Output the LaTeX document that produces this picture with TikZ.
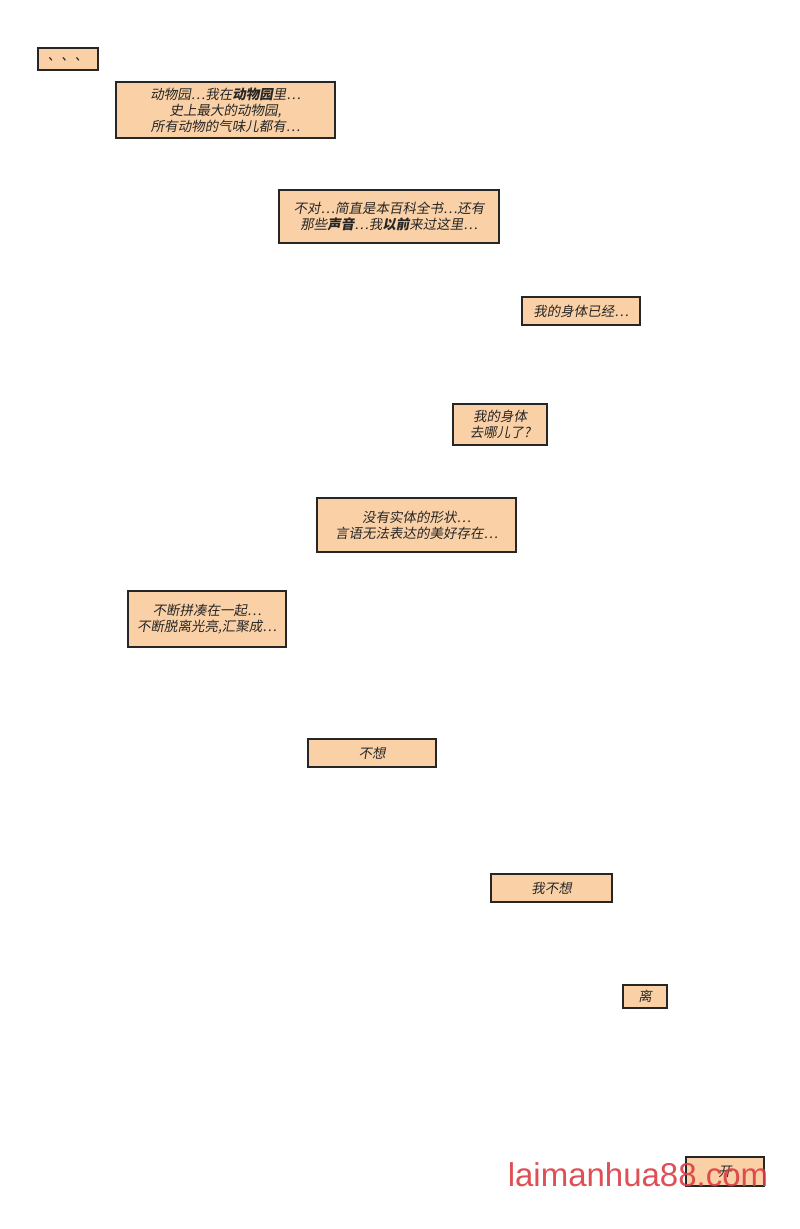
\documentclass[tikz,border=0pt]{standalone}
\usepackage{fontspec}
\newfontfamily\cjk[FakeSlant=0.18]{Noto Sans CJK SC}
\newfontfamily\wm{Liberation Sans}
\definecolor{peach}{HTML}{FAD0A6}
\definecolor{wmred}{HTML}{DC3C44}
\begin{document}
\begin{tikzpicture}[x=1pt,y=-1pt,
  capbx/.style={draw=black!85,line width=1.3pt,fill=peach,inner sep=0pt,align=center,
    font=\cjk\fontsize{13.5}{16}\selectfont,text=black!85}]
\useasboundingbox[fill=white] (0,0) rectangle (800,1229);
\newcommand\capbox[6]{\node[capbx,minimum width={#3-#1},minimum height={#4-#2}] (#5) at ({(#1+#3)/2},{(#2+#4)/2}) {#6};}
\capbox{38}{48}{98}{70}{c1}{、、、}
\capbox{116}{82}{335}{138}{c2}{动物园…我在\textbf{动物园}里…\\史上最大的动物园,\\所有动物的气味儿都有…}
\capbox{279}{190}{499}{243}{c3}{不对…简直是本百科全书…还有\\那些\textbf{声音}…我\textbf{以前}来过这里…}
\capbox{522}{297}{640}{325}{c4}{我的身体已经…}
\capbox{453}{404}{547}{445}{c5}{我的身体\\去哪儿了?}
\capbox{317}{498}{516}{552}{c6}{没有实体的形状…\\言语无法表达的美好存在…}
\capbox{128}{591}{286}{647}{c7}{不断拼凑在一起…\\不断脱离光亮,汇聚成…}
\capbox{308}{739}{436}{767}{c8}{不想}
\capbox{491}{874}{612}{902}{c9}{我不想}
\capbox{623}{985}{667}{1008}{c10}{离}
\capbox{686}{1157}{764}{1186}{c11}{开}
\node[font=\wm\fontsize{33}{38}\selectfont,text=wmred,opacity=0.9,anchor=center] (wm) at (638,1175) {laimanhua88.com};
\end{tikzpicture}
\end{document}
